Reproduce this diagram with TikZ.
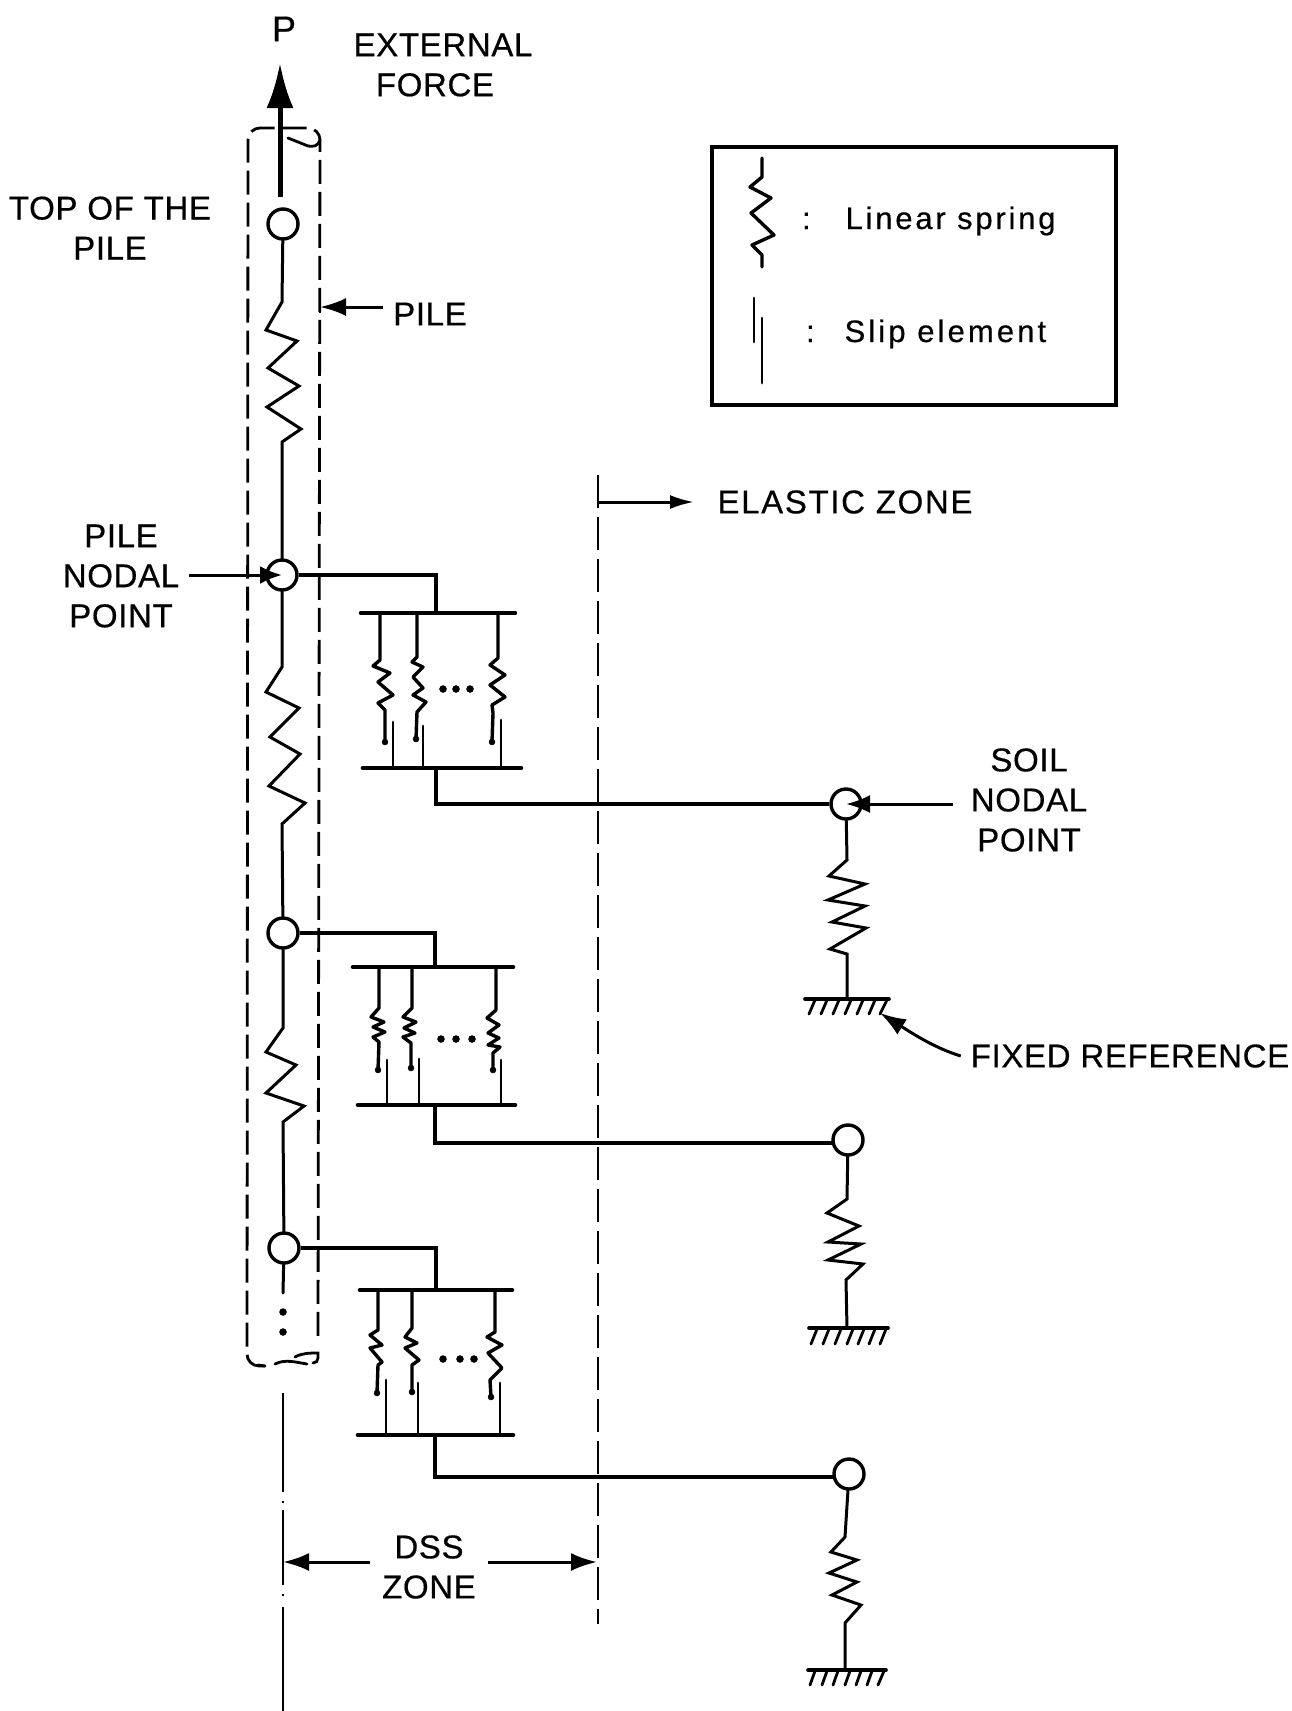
\documentclass[tikz,border=0pt]{standalone}
\usepackage{fontspec}
\setmainfont[LetterSpace=2,FakeBold=0.5]{Liberation Sans}
\usetikzlibrary{arrows.meta}
\tikzset{
    lbl/.style={font=\fontsize{33}{40}\selectfont, align=center, inner sep=10pt, outer sep=0pt},
    nodal/.style={circle, draw, line width=3.4pt, minimum size=30pt, inner sep=0pt},
    coil/.style={line width=3pt, line join=miter, line cap=round},
    fine/.style={line width=3.4pt, line join=round, line cap=round},
    link/.style={line width=3.6pt, line join=miter},
    plate/.style={line width=4.6pt, line cap=round},
    slip/.style={line width=2.8pt, line cap=round},
    casing/.style={line width=2.8pt, dash pattern=on 24pt off 8pt},
    arw/.style={line width=3pt, -{Latex[length=26pt,width=18pt]}}
}
\begin{document}
\begin{tikzpicture}[x=1pt, y=-1pt]
    \useasboundingbox (0,0) rectangle (1292,1711);

    % Pile and soil nodal points
    \node[nodal] (pA) at (283,224) {};
    \node[nodal] (pB) at (282,575) {};
    \node[nodal] (pC) at (283,933) {};
    \node[nodal] (pD) at (284,1248) {};
    \node[nodal] (sA) at (846,804) {};
    \node[nodal] (sB) at (848,1140) {};
    \node[nodal] (sC) at (849,1474) {};

    % Free ends and plate centres
    \coordinate (forceTail) at (280,197);
    \coordinate (forceTip) at (280,63);
    \coordinate (pileEdge) at (320,307);
    \coordinate (elasticFrom) at (598,502);
    \coordinate (elasticTo) at (694,502);
    \coordinate (soilFrom) at (953,804);
    \coordinate (refTip) at (880,1013);
    \coordinate (dssL) at (283,1562);
    \coordinate (dssR) at (597,1562);
    \coordinate (tA) at (436,613);
    \coordinate (bA) at (436,768);
    \coordinate (tB) at (435,967);
    \coordinate (bB) at (435,1105);
    \coordinate (tC) at (436,1290);
    \coordinate (bC) at (435,1435);
    \coordinate (gndA) at (847,999);
    \coordinate (gndB) at (847,1328);
    \coordinate (gndC) at (845,1670);

    % Labels
    \node[lbl, font=\fontsize{36}{40}\selectfont] (lblP) at (284,29) {P};
    \node[lbl] (lblForce) at (443,65) {EXTERNAL\\FORCE\hspace*{16pt}};
    \node[lbl] (lblTop) at (110,228) {TOP OF THE\\PILE};
    \node[lbl] (lblPile) at (430,314) {PILE};
    \node[lbl] (lblPN) at (121,576) {PILE\\NODAL\\POINT};
    \node[lbl] (lblSN) at (1029,800) {SOIL\\NODAL\\POINT};
    \node[lbl] (lblElastic) at (845,502) {\addfontfeature{LetterSpace=5}ELASTIC ZONE};
    \node[lbl] (lblRef) at (1130,1056) {FIXED REFERENCE};
    \node[lbl, inner sep=12pt] (lblDSS) at (429,1567) {DSS\\ZONE};

    % External force
    \draw[line width=5pt, -{Latex[length=45pt,width=27pt]}] (forceTail) -- (forceTip);

    % Pile casing
    \draw[casing, rounded corners=12pt] (265,1366) -- (247,1366) -- (248,128) -- (320,128) -- (318,1340);
    \draw[slip] (288,138) -- (308,146) .. controls (314,147) and (318,146) .. (320,140);
    \draw[slip] (265,1366) -- (258,1365);
    \draw[slip] (275,1364) .. controls (285,1359) and (295,1362) .. (307,1364);
    \draw[slip] (295,1357) .. controls (302,1353) and (310,1353) .. (318,1353) -- (318,1358) .. controls (318,1361) and (316,1363) .. (313,1363);

    % Pile springs
    \draw[coil] (pA) -- (282,302) -- (266,330) -- (297,341) -- (268,368) -- (299,386) -- (267,407) -- (301,429) -- (282,442) -- (pB);
    \draw[coil] (pB) -- (282,667) -- (266,692) -- (299,708) -- (270,737) -- (300,754) -- (269,786) -- (305,803) -- (282,824) -- (pC);
    \draw[coil] (pC) -- (283,1028) -- (266,1052) -- (296,1065) -- (266,1093) -- (304,1106) -- (283,1122) -- (pD);
    \draw[coil] (pD) -- (283,1293);
    \filldraw[black] (283,1312) circle (3.5pt);
    \filldraw[black] (283,1332) circle (3.5pt);

    % Pile axis
    \draw[line width=2.8pt, dash pattern=on 99pt off 9pt on 2pt off 7pt on 75pt off 9pt on 2pt off 11pt on 110pt] (283,1393) -- (283,1711);

    % Limit of DSS zone
    \draw[line width=2.6pt, dash pattern=on 33pt off 9pt] (598,475) -- (598,1624);
    \draw[arw, -{Latex[length=24pt,width=14pt]}] (elasticFrom) -- (elasticTo);

    % First group of elements
    \draw[link] (pB) -| (tA);
    \draw[plate] (361,613) -- (515,613);
    \draw[plate] (363,768) -- (521,768);
    \draw[link] (bA) |- (sA);
    \draw[fine] (380,613) -- (380,660) -- (373,666) -- (390,673) -- (378,682) -- (393,695) -- (378,703) -- (385,710) -- (385,742);
    \draw[fine] (417,613) -- (417,657) -- (412,662) -- (423,667) -- (413,677) -- (423,688) -- (413,695) -- (426,702) -- (417,712) -- (416,739);
    \draw[fine] (498,613) -- (498,658) -- (490,665) -- (505,675) -- (490,685) -- (505,697) -- (492,705) -- (493,713) -- (492,742);
    \filldraw[black] (385,742) circle (3pt);
    \filldraw[black] (416,739) circle (3pt);
    \filldraw[black] (492,742) circle (3pt);
    \draw[slip] (393,722) -- (393,768);
    \draw[slip] (423,726) -- (423,768);
    \draw[slip] (501,720) -- (501,768);
    \filldraw[black] (443,689) circle (3.5pt);
    \filldraw[black] (456,689) circle (3.5pt);
    \filldraw[black] (470,689) circle (3.5pt);

    % Second group of elements
    \draw[link] (pC) -| (tB);
    \draw[plate] (353,967) -- (513,967);
    \draw[plate] (358,1105) -- (515,1105);
    \draw[link] (bB) |- (sB.190);
    \draw[fine] (379,967) -- (379,1008) -- (371,1017) -- (384,1022) -- (373,1027) -- (385,1032) -- (373,1037) -- (379,1042) -- (378,1070);
    \draw[fine] (412,967) -- (412,1008) -- (403,1017) -- (416,1022) -- (404,1028) -- (415,1033) -- (403,1037) -- (411,1043) -- (411,1068);
    \draw[fine] (496,967) -- (496,1010) -- (487,1018) -- (499,1025) -- (488,1033) -- (499,1038) -- (488,1045) -- (500,1047) -- (493,1053) -- (493,1070);
    \filldraw[black] (378,1070) circle (3pt);
    \filldraw[black] (411,1068) circle (3pt);
    \filldraw[black] (493,1070) circle (3pt);
    \draw[slip] (387,1060) -- (387,1105);
    \draw[slip] (419,1059) -- (419,1105);
    \draw[slip] (501,1060) -- (501,1105);
    \filldraw[black] (441,1039) circle (3.5pt);
    \filldraw[black] (456,1039) circle (3.5pt);
    \filldraw[black] (472,1039) circle (3.5pt);

    % Third group of elements
    \draw[link] (pD) -| (tC);
    \draw[plate] (360,1290) -- (512,1290);
    \draw[plate] (358,1435) -- (513,1435);
    \draw[link] (bC) |- (sC.190);
    \draw[fine] (378,1290) -- (378,1330) -- (370,1335) -- (382,1345) -- (370,1348) -- (382,1362) -- (378,1365) -- (377,1393);
    \draw[fine] (412,1290) -- (412,1328) -- (405,1337) -- (417,1343) -- (405,1348) -- (419,1360) -- (412,1365) -- (412,1392);
    \draw[fine] (495,1290) -- (495,1332) -- (487,1337) -- (502,1345) -- (488,1353) -- (502,1368) -- (490,1380) -- (491,1397);
    \filldraw[black] (377,1393) circle (3pt);
    \filldraw[black] (412,1392) circle (3pt);
    \filldraw[black] (491,1397) circle (3pt);
    \draw[slip] (386,1380) -- (386,1435);
    \draw[slip] (418,1383) -- (418,1435);
    \draw[slip] (500,1383) -- (500,1435);
    \filldraw[black] (443,1359) circle (3.5pt);
    \filldraw[black] (460,1359) circle (3.5pt);
    \filldraw[black] (474,1359) circle (3.5pt);

    % Soil springs
    \draw[coil] (sA) -- (847,860) -- (829,876) -- (865,884) -- (828,900) -- (865,906) -- (832,922) -- (866,928) -- (830,949) -- (847,954) -- (gndA);
    \draw[coil] (sB) -- (847,1199) -- (827,1213) -- (859,1226) -- (828,1242) -- (861,1244) -- (828,1260) -- (863,1264) -- (846,1280) -- (gndB);
    \draw[coil] (sC) -- (845,1537) -- (831,1552) -- (857,1560) -- (829,1573) -- (857,1582) -- (832,1595) -- (861,1605) -- (845,1623) -- (gndC);

    % Fixed references
    \draw[plate, line width=3.6pt] (805,999) -- (889,999);
    \draw[slip] (815,1000) -- ++(-6,14) (827,1000) -- ++(-6,14) (839,1000) -- ++(-6,14) (851,1000) -- ++(-6,14) (863,1000) -- ++(-6,14) (875,1000) -- ++(-6,14) (887,1000) -- ++(-7,14);
    \draw[plate, line width=3.6pt] (809,1328) -- (888,1328);
    \draw[slip] (817,1329) -- ++(-6,15) (829,1329) -- ++(-6,15) (841,1329) -- ++(-6,15) (853,1329) -- ++(-6,15) (864,1329) -- ++(-6,15) (875,1329) -- ++(-6,15) (886,1329) -- ++(-6,15);
    \draw[plate, line width=3.6pt] (808,1670) -- (886,1670);
    \draw[slip] (815,1671) -- ++(-5,14) (827,1671) -- ++(-5,14) (838,1671) -- ++(-5,14) (850,1671) -- ++(-5,14) (861,1671) -- ++(-5,14) (872,1671) -- ++(-5,14) (884,1671) -- ++(-6,14);

    % Pointers of the labels
    \draw[arw] (lblPile.west |- pileEdge) -- (pileEdge);
    \draw[line width=2.6pt] (320,301) -- (320,313);
    \draw[arw, -{Latex[length=22pt,width=18pt]}] (lblPN.east |- pB) -- (pB.center);
    \draw[arw, -{Latex[length=24pt,width=18pt]}] (soilFrom) -- (sA.center);
    \draw[arw] (lblRef.west) .. controls (935,1048) and (915,1035) .. (refTip);
    \draw[arw] (lblDSS.west |- dssL) -- (dssL);
    \draw[arw] (lblDSS.east |- dssR) -- (dssR);

    % Legend
    \node[draw, line width=3.6pt, minimum width=404pt, minimum height=258pt, inner sep=0pt] (legend) at (914,276) {};
    \draw[fine] (762,158) -- (762,177) -- (750,187) -- (771,198) -- (751,213) -- (774,235) -- (752,245) -- (762,255) -- (762,267);
    \draw[slip] (754,298) -- (754,342);
    \draw[slip] (762,318) -- (762,383);
    \node[lbl, anchor=base west, inner sep=0pt, font=\fontsize{31}{36}\selectfont] (lblSpring) at (802,229) {\addfontfeature{LetterSpace=9}:\hspace{35pt}Linear spring};
    \node[lbl, anchor=base west, inner sep=0pt, font=\fontsize{31}{36}\selectfont] (lblSlip) at (806,342) {\addfontfeature{LetterSpace=10}:\hspace{30pt}Slip element};
\end{tikzpicture}
\end{document}
